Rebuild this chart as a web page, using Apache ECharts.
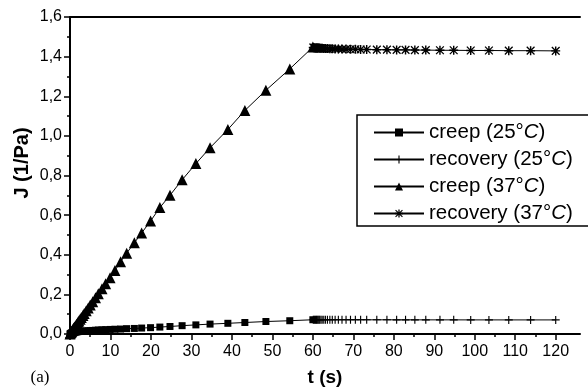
<!DOCTYPE html>
<html>
<head>
<meta charset="utf-8">
<script src="https://cdn.jsdelivr.net/npm/echarts@6/dist/echarts.min.js"></script>
<style>html,body{margin:0;padding:0;background:#fff}#c{width:588px;height:388px}</style>
</head>
<body>
<div id="c"></div>
<script>
const creepTime = [0,0.1,0.2,0.3,0.4,0.5,0.6,0.7,0.8,0.9,1.0,1.1,1.25,1.4,1.6,1.8,2.0,2.2,2.5,2.8,3.2,3.5,4.0,4.5,5.0,5.6,6.3,7.0,7.9,8.8,9.9,11.1,12.5,14.0,15.9,17.7,19.9,22.2,24.7,27.7,31.1,34.6,39.0,43.2,48.4,54.3,60.0];
const creep25 = [0,0.002,0.003,0.004,0.005,0.006,0.007,0.0075,0.008,0.0085,0.009,0.0095,0.010,0.0105,0.011,0.0115,0.012,0.0125,0.013,0.0135,0.014,0.0145,0.015,0.016,0.017,0.018,0.019,0.020,0.021,0.022,0.023,0.024,0.025,0.027,0.028,0.030,0.032,0.035,0.038,0.042,0.046,0.050,0.054,0.058,0.063,0.067,0.072];
const creep37 = [0,0.004,0.007,0.010,0.013,0.016,0.019,0.022,0.025,0.028,0.031,0.034,0.038,0.042,0.048,0.054,0.060,0.066,0.074,0.083,0.094,0.103,0.117,0.131,0.146,0.163,0.183,0.203,0.228,0.254,0.284,0.320,0.365,0.408,0.460,0.510,0.570,0.638,0.700,0.778,0.860,0.940,1.032,1.128,1.230,1.338,1.448];
const recTime = [60.1,60.3,60.5,60.7,60.9,61.1,61.3,61.5,61.7,62.0,62.3,62.7,63.1,63.6,64.2,64.8,65.5,66.3,67.2,68.2,69.3,70.5,71.8,73.3,75.8,78.3,80.7,82.9,85.2,87.9,91.4,94.8,99.0,103.5,108.4,113.8,120.0];
const rec25 = [0.072,0.072,0.072,0.072,0.072,0.072,0.072,0.072,0.072,0.072,0.072,0.072,0.072,0.072,0.072,0.072,0.072,0.072,0.072,0.072,0.0718,0.0718,0.0718,0.0716,0.0716,0.0716,0.0715,0.0715,0.0714,0.0714,0.0713,0.0713,0.0712,0.0712,0.0711,0.0711,0.0711];
const rec37 = [1.446,1.445,1.445,1.444,1.444,1.443,1.443,1.443,1.442,1.442,1.442,1.441,1.441,1.441,1.440,1.440,1.439,1.439,1.438,1.438,1.437,1.437,1.436,1.436,1.435,1.435,1.434,1.434,1.433,1.433,1.432,1.432,1.431,1.431,1.430,1.430,1.429];
const xMajorTicks = [0,10,20,30,40,50,60,70,80,90,100,110,120];
const xMinorTicks = [5,15,25,35,45,55,65,75,85,95,105,115];
const seriesNames = ['creep (25°C)','recovery (25°C)','creep (37°C)','recovery (37°C)'];

function pairs(xs, ys){ return xs.map((x,i)=>[x, ys[i]]); }

const PLUS = 'path://M4.3,0H5.7V10H4.3Z M0,4.3H10V5.7H0Z';
const STAR = 'path://M4.2,0H5.8V10H4.2Z M0,4.2H10V5.8H0Z M1.2,0.2L9.8,8.8L8.8,9.8L0.2,1.2Z M8.8,0.2L9.8,1.2L1.2,9.8L0.2,8.8Z';
const FONT = 'Liberation Sans';

const chart = echarts.init(document.getElementById('c'), null, {renderer:'canvas'});
function lineSeries(name, data, symbol, size){
  return {
    name, type:'line', data, symbol, symbolSize:size, showSymbol:true,
    xAxisIndex:0, yAxisIndex:0,
    lineStyle:{color:'#000', width:1},
    itemStyle:{color:'#000', borderWidth:0},
    animation:false, z:3
  };
}
const option = {
  animation:false,
  grid:[
    {left:70, top:17, width:510, height:317},
    {left:70, top:17, width:510, height:317}
  ],
  xAxis:[
    {type:'value', gridIndex:0, position:'bottom', min:0, max:126,
     axisLine:{show:true, lineStyle:{color:'#000', width:2}},
     axisTick:{show:true, inside:false, length:6, customValues:xMajorTicks, lineStyle:{color:'#000', width:1.5}},
     axisLabel:{show:true, customValues:xMajorTicks, margin:10, fontSize:16, fontFamily:FONT, color:'#000'},
     splitLine:{show:false}},
    {type:'value', gridIndex:1, position:'bottom', min:0, max:126,
     axisLine:{show:false},
     axisTick:{show:true, inside:false, length:3, customValues:xMinorTicks, lineStyle:{color:'#000', width:1.5}},
     axisLabel:{show:false}, splitLine:{show:false}},
    {type:'value', gridIndex:0, position:'top', min:0, max:126,
     axisLine:{show:true, lineStyle:{color:'#000', width:2}},
     axisTick:{show:false}, axisLabel:{show:false}, splitLine:{show:false}}
  ],
  yAxis:[
    {type:'value', gridIndex:0, min:0, max:1.6, interval:0.2,
     axisLine:{show:true, lineStyle:{color:'#000', width:2}},
     axisTick:{show:true, inside:false, length:6, lineStyle:{color:'#000', width:1.5}},
     minorTick:{show:true, splitNumber:2, length:3, lineStyle:{color:'#000', width:1.5}},
     axisLabel:{margin:8, fontSize:16, fontFamily:FONT, color:'#000',
       formatter:v=>v.toFixed(1).replace('.',',')},
     splitLine:{show:false}},
    {type:'value', gridIndex:1, min:0, max:1.6, show:false}
  ],
  legend:{
    data:seriesNames, orient:'vertical', left:357, top:115,
    itemWidth:50, itemHeight:10, itemGap:6,
    padding:[7,40,2,16],
    borderColor:'#000', borderWidth:1.5, backgroundColor:'#fff',
    textStyle:{fontSize:20.5, fontFamily:FONT, color:'#000', lineHeight:21,
      rich:{n:{fontSize:20.5, fontFamily:FONT, color:'#000'}, i:{fontSize:20.5, fontFamily:FONT, fontStyle:'italic', color:'#000'}}},
    formatter:function(name){
      const m = name.match(/^(.*°)C\)$/);
      return m ? '{n|'+m[1]+'}{i|C}{n|)}' : name;
    }
  },
  graphic:[
    {type:'text', x:22, y:163, rotation:Math.PI/2, style:{text:'J (1/Pa)', font:'bold 20px "Liberation Sans"', fill:'#000', align:'center', verticalAlign:'middle'}},
    {type:'text', x:325, y:378, style:{text:'t (s)', font:'bold 19px "Liberation Sans"', fill:'#000', align:'center', verticalAlign:'middle'}},
    {type:'text', x:40, y:378, style:{text:'(a)', font:'17px "Liberation Serif"', fill:'#000', align:'center', verticalAlign:'middle'}}
  ],
  series:[
    lineSeries(seriesNames[0], pairs(creepTime, creep25), 'rect', 7),
    lineSeries(seriesNames[1], pairs(recTime, rec25), PLUS, 8),
    lineSeries(seriesNames[2], pairs(creepTime, creep37), 'triangle', 11),
    lineSeries(seriesNames[3], pairs(recTime, rec37), STAR, 9)
  ]
};
chart.setOption(option);
</script>
</body>
</html>
